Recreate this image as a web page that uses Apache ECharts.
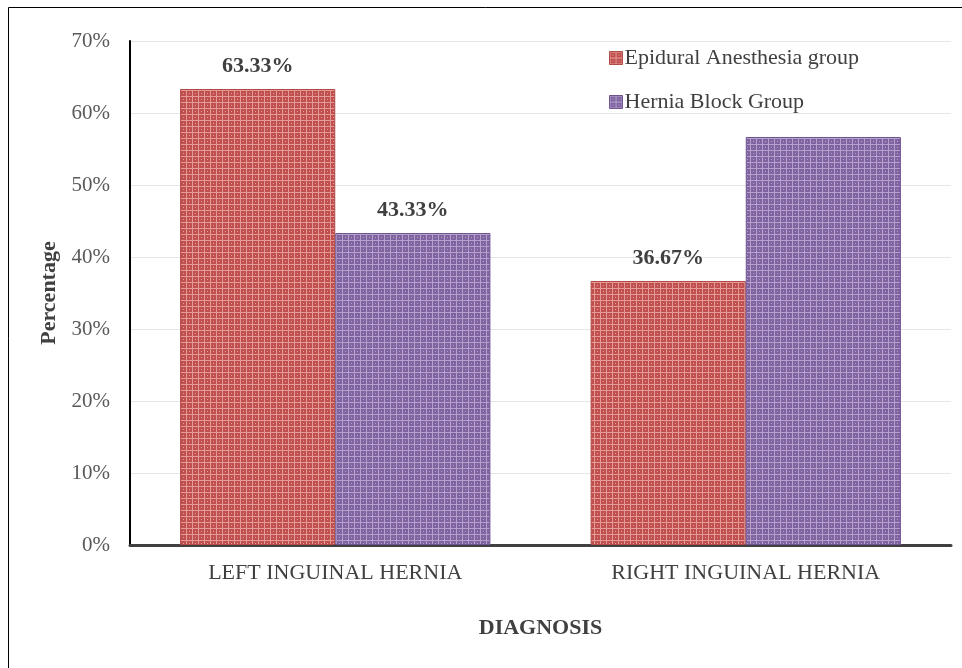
<!DOCTYPE html>
<html>
<head>
<meta charset="utf-8">
<script src="https://cdn.jsdelivr.net/npm/echarts@6/dist/echarts.min.js"></script>
<style>
html,body{margin:0;padding:0;background:#fff;}
#chart{width:962px;height:668px;}
</style>
</head>
<body>
<div id="chart"></div>
<script>
// Diagnosis categories and group percentages
const categories = ['LEFT INGUINAL HERNIA', 'RIGHT INGUINAL HERNIA'];
const epiduralValues = [63.33, 36.67];
const herniaBlockValues = [43.33, 56.67];
const seriesNames = ['Epidural Anesthesia group', 'Hernia Block Group'];
const showValueLabel = [[true, true], [true, false]];
const yTicks = [0, 10, 20, 30, 40, 50, 60, 70];

// Small repeating grid texture for the bar fills
function makePattern(base, light) {
  const c = document.createElement('canvas');
  c.width = 6; c.height = 6;
  const g = c.getContext('2d');
  g.fillStyle = base;
  g.fillRect(0, 0, 6, 6);
  g.fillStyle = light;
  g.fillRect(0, 0, 6, 1);
  g.fillRect(0, 0, 1, 6);
  g.fillRect(3, 3, 1, 1);
  return c;
}
const redFill = { image: makePattern('#c0504d', '#e49a98'), repeat: 'repeat' };
const purpleFill = { image: makePattern('#8064a2', '#b5a1cc'), repeat: 'repeat' };

const font = '"Liberation Serif", "Times New Roman", serif';

function buildData(values, flags) {
  return values.map((v, i) => ({
    value: v,
    label: { show: flags[i] }
  }));
}

const valueLabel = {
  position: 'top', distance: 12,
  fontFamily: font, fontSize: 22, fontWeight: 'bold', color: '#404040',
  formatter: p => p.value.toFixed(2) + '%'
};

const chart = echarts.init(document.getElementById('chart'));
chart.setOption({
  animation: false,
  textStyle: { fontFamily: font },
  graphic: [{
    type: 'rect',
    shape: { x: 8.5, y: 7.5, width: 1000, height: 700 },
    style: { fill: 'none', stroke: '#000', lineWidth: 1 },
    silent: true
  }],
  legend: {
    orient: 'vertical',
    left: 604,
    top: 42,
    itemWidth: 13,
    itemHeight: 13,
    itemGap: 22,
    icon: 'rect',
    textStyle: { fontFamily: font, fontSize: 22, color: '#404040', padding: [0, 0, 0, -3] },
    data: [
      { name: seriesNames[0], itemStyle: { color: redFill, borderColor: '#b24a47', borderWidth: 1 } },
      { name: seriesNames[1], itemStyle: { color: purpleFill, borderColor: '#6e5590', borderWidth: 1 } }
    ]
  },
  grid: { left: 130, right: 11, top: 41, bottom: 123 },
  xAxis: {
    type: 'category',
    data: categories,
    name: 'DIAGNOSIS',
    nameLocation: 'middle',
    nameGap: 72,
    nameTextStyle: { fontFamily: font, fontSize: 22, fontWeight: 'bold', color: '#404040' },
    axisLine: { lineStyle: { color: '#404040', width: 3 } },
    axisTick: { show: false },
    axisLabel: { fontFamily: font, fontSize: 22, color: '#404040', margin: 17 }
  },
  yAxis: {
    type: 'value',
    min: yTicks[0],
    max: yTicks[yTicks.length - 1],
    interval: 10,
    name: 'Percentage',
    nameLocation: 'middle',
    nameGap: 66,
    nameTextStyle: { fontFamily: font, fontSize: 22, fontWeight: 'bold', color: '#404040' },
    axisLine: { show: true, lineStyle: { color: '#000', width: 2 } },
    axisTick: { show: false },
    splitLine: { lineStyle: { color: '#e6e6e6', width: 1 } },
    axisLabel: {
      fontFamily: font, fontSize: 21, color: '#595959', margin: 20,
      formatter: v => v + '%'
    }
  },
  series: [
    {
      name: seriesNames[0],
      type: 'bar',
      data: buildData(epiduralValues, showValueLabel[0]),
      barGap: '0%',
      barCategoryGap: '24.4%',
      itemStyle: { color: redFill, borderColor: '#b24a47', borderWidth: 1 },
      label: valueLabel
    },
    {
      name: seriesNames[1],
      type: 'bar',
      data: buildData(herniaBlockValues, showValueLabel[1]),
      itemStyle: { color: purpleFill, borderColor: '#6e5590', borderWidth: 1 },
      label: valueLabel
    }
  ]
});
</script>
</body>
</html>
